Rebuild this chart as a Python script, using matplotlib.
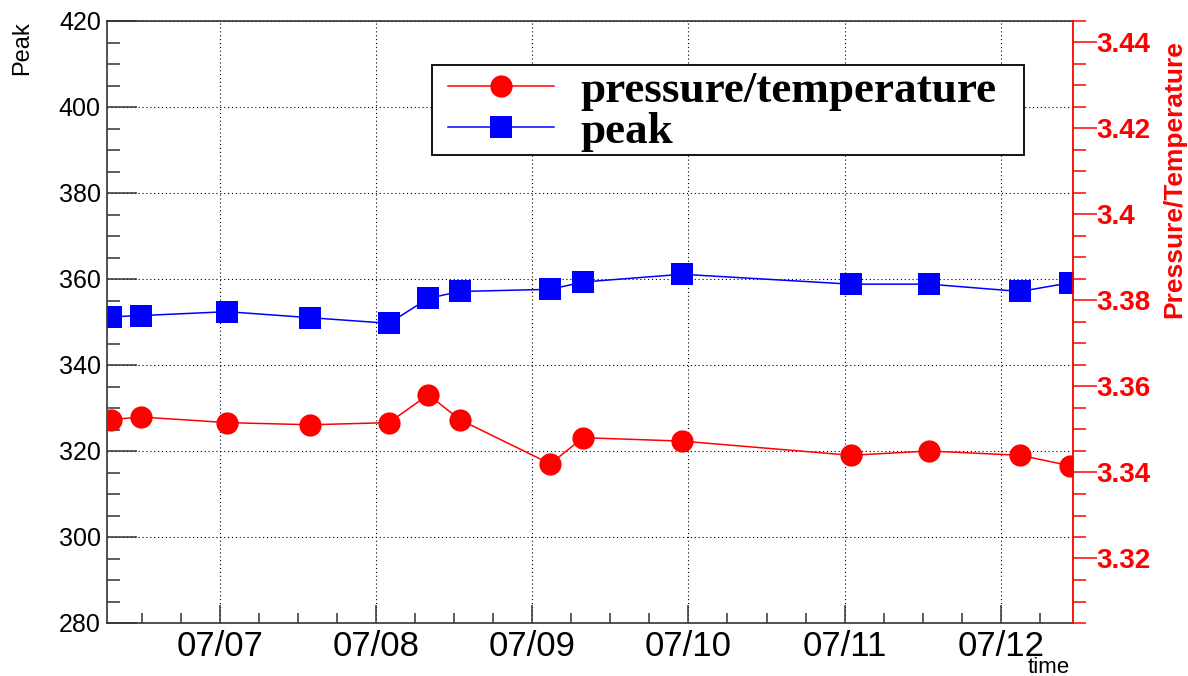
# -*- coding: utf-8 -*-
# peak and pressure/temperature vs time, two y axes

import numpy as np
import pandas as pd
import matplotlib
matplotlib.use('Agg')
from matplotlib import pyplot as plt
from matplotlib.patches import Rectangle
import matplotlib.dates as mdates
from matplotlib.ticker import MultipleLocator, FuncFormatter

############# Data

times = ['2017-07-06 07:10', '2017-07-06 11:54', '2017-07-07 01:05', '2017-07-07 13:52',
         '2017-07-08 01:57', '2017-07-08 08:01', '2017-07-08 12:50', '2017-07-09 02:46',
         '2017-07-09 07:48', '2017-07-09 23:01', '2017-07-11 00:58', '2017-07-11 13:00',
         '2017-07-12 02:59', '2017-07-12 10:35']
peak = [351.2, 351.5, 352.4, 351.0, 349.7, 355.5, 357.1, 357.6, 359.3, 361.1, 358.8, 358.8, 357.1, 359.1]
press_temp = [3.3523, 3.3529, 3.3516, 3.3511, 3.3516, 3.3581, 3.3523, 3.3420, 3.3481, 3.3473,
              3.3440, 3.3450, 3.3440, 3.3416]

time_range = ['2017-07-06 06:37', '2017-07-12 11:04']
peak_range = [280, 420]
pt_range = [3.305, 3.445]

plt.rcParams['font.family'] = ['Liberation Sans', 'DejaVu Sans']

t = pd.to_datetime(times)
W, H = 1188, 676

fig = plt.figure(figsize=(W / 100, H / 100), dpi=100)
ax = fig.add_axes([107 / W, 53 / H, (1072.7 - 107) / W, 602 / H])

ax.plot(t, peak, color='blue', marker='s', ms=15.8, mew=0, lw=1.1, label='peak')

ax2 = ax.twinx()
ax2.plot(t, press_temp, color='red', marker='o', ms=16, mew=0, lw=1.1, label='pressure/temperature')

# left axis / time axis
ax.set_xlim(pd.to_datetime(time_range))
ax.set_ylim(peak_range)
ax.yaxis.set_major_locator(MultipleLocator(20))
ax.yaxis.set_minor_locator(MultipleLocator(5))
ax.xaxis.set_major_locator(mdates.DayLocator())
ax.xaxis.set_minor_locator(mdates.HourLocator(byhour=[6, 12, 18]))
ax.xaxis.set_major_formatter(mdates.DateFormatter('%m/%d'))

ax.tick_params(axis='y', which='major', direction='in', length=21.6, width=1.1, labelsize=18, pad=4.5,
               color='#333333')
ax.tick_params(axis='y', which='minor', direction='in', length=9.4, width=1.1, color='#333333')
ax.tick_params(axis='x', which='major', direction='in', length=13, width=1.1, labelsize=25, pad=5,
               color='#333333')
ax.tick_params(axis='x', which='minor', direction='in', length=7, width=1.1, color='#333333')
ax.grid(True, which='major', color='black', linestyle=(0, (1, 2.5)), linewidth=0.8)

for s in ['left', 'top', 'bottom']:
    ax.spines[s].set_color('#333333')
    ax.spines[s].set_linewidth(1.2)
ax.spines['right'].set_visible(False)

# right axis
ax2.set_ylim(pt_range)
ax2.yaxis.set_major_locator(MultipleLocator(0.02))
ax2.yaxis.set_minor_locator(MultipleLocator(0.005))
ax2.yaxis.set_major_formatter(FuncFormatter(lambda v, p: '%g' % round(v, 3)))
ax2.tick_params(axis='y', which='major', direction='out', length=17, width=1.1, color='red',
                labelcolor='red', labelsize=20, pad=0)
ax2.tick_params(axis='y', which='minor', direction='out', length=9.4, width=1.1, color='red')
plt.setp(ax2.get_yticklabels(), fontweight='bold')
for s in ['left', 'top', 'bottom']:
    ax2.spines[s].set_visible(False)
ax2.spines['right'].set_color('red')
ax2.spines['right'].set_linewidth(1.3)

# axis titles
fig.text(22 / W, 1 - 21 / H, 'Peak', rotation=90, ha='center', va='top', fontsize=17)
fig.text(1070 / W, 1 - 673 / H, 'time', ha='right', va='baseline', fontsize=16)
fig.text(1174 / W, 1 - 40 / H, 'Pressure/Temperature', rotation=90, ha='center', va='top',
         fontsize=19, fontweight='bold', color='red')

# legend: box drawn separately, entries placed inside it
box = Rectangle((432 / W, 1 - 155 / H), 592 / W, 90 / H, transform=fig.transFigure,
                facecolor='white', edgecolor='black', linewidth=1.3, zorder=4, clip_on=False)
ax2.add_patch(box)
h1, l1 = ax2.get_legend_handles_labels()
h2, l2 = ax.get_legend_handles_labels()
leg = ax2.legend(h1 + h2, l1 + l2, loc='upper left', bbox_to_anchor=(434 / W, 1 - 57 / H),
                 bbox_transform=fig.transFigure,
                 prop=dict(family='Liberation Serif', weight='bold', size=32.5),
                 handlelength=2.36, handletextpad=0.59, borderpad=0.3, labelspacing=0.0,
                 borderaxespad=0, frameon=False)
leg.set_zorder(6)

fig.savefig('out.png', dpi=100)
